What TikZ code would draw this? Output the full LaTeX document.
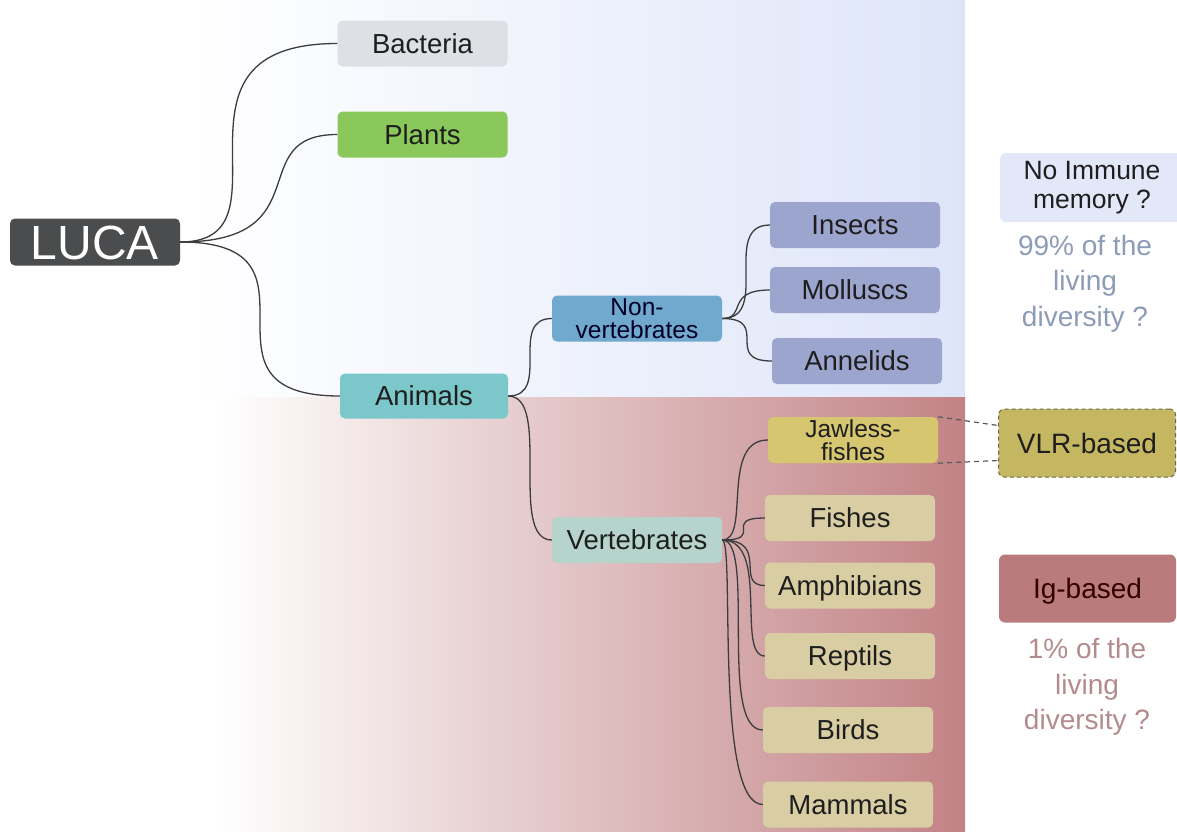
\documentclass[tikz,border=0pt]{standalone}
\usepackage{fontspec}
\setmainfont{Liberation Sans}
\usetikzlibrary{calc}
\definecolor{bgBlue}{HTML}{DEE5F9}
\definecolor{bgPinkM}{HTML}{DCB9BB}
\definecolor{bgPink}{HTML}{C28285}
\definecolor{cLuca}{HTML}{4A4C4D}
\definecolor{cBact}{HTML}{DDE0E5}
\definecolor{cPlant}{HTML}{8BC85B}
\definecolor{cAnim}{HTML}{7CC7C9}
\definecolor{cNonv}{HTML}{70A9CD}
\definecolor{cInv}{HTML}{9CA5CD}
\definecolor{cJaw}{HTML}{D6C66F}
\definecolor{cVert}{HTML}{B6D4CC}
\definecolor{cVer}{HTML}{D9CEA3}
\definecolor{cNoImm}{HTML}{E3E8F8}
\definecolor{cVLR}{HTML}{C5B762}
\definecolor{cVLRb}{HTML}{6D6842}
\definecolor{cIg}{HTML}{B97B7B}
\definecolor{cNine}{HTML}{8D9CB6}
\definecolor{cOne}{HTML}{B48B8D}
\definecolor{cTxt}{HTML}{1E1E1E}
\definecolor{cLine}{HTML}{3C3C3C}
\newcommand\mylink[4]{\draw[conn] (#1.east) .. controls +(#3,0) and +(-#4,0) .. (#2.west);}
\begin{document}
\begin{tikzpicture}[x=1pt,y=-1pt,
  nd/.style={rounded corners=5pt, minimum width=170pt, minimum height=46pt, inner sep=0pt,
    text=cTxt, font=\fontsize{27.5}{30}\selectfont, text height=19.7pt, text depth=0pt},
  ndtwo/.style={rounded corners=5pt, minimum width=170pt, minimum height=46pt, inner sep=0pt,
    text=cTxt, font=\fontsize{24.5}{22.5}\selectfont, align=center},
  lg/.style={rounded corners=6pt, minimum width=177pt, minimum height=68pt, inner sep=0pt,
    text=cTxt, font=\fontsize{28}{30}\selectfont, text height=20pt, text depth=0pt},
  note/.style={font=\fontsize{28}{35.5}\selectfont, align=center, inner sep=0pt},
  conn/.style={draw=cLine, line width=1.3pt},
  dashln/.style={draw=cLine!85, line width=1.2pt, dash pattern=on 5pt off 4pt}
]
\useasboundingbox (0,0) rectangle (1177,831);
\fill[white] (0,0) rectangle (1177,831);
\shade[left color=white, right color=bgBlue] (190,0) rectangle (965,397);
\shade[left color=white, middle color=bgPinkM, right color=bgPink] (215,397) rectangle (965,831);

% nodes
\node[nd, fill=cLuca, text=white, minimum height=47pt, font=\fontsize{48}{50}\selectfont, text height=34pt] (luca) at (95,242) {LUCA};
\node[nd, fill=cBact] (bact) at (422.5,43.5) {Bacteria};
\node[nd, fill=cPlant] (plant) at (422.5,134.5) {Plants};
\node[nd, fill=cAnim, minimum width=168pt, minimum height=45pt] (anim) at (424,396) {Animals};
\node[ndtwo, fill=cNonv, text=black!85!blue] (nonv) at (637,318.5) {Non-\\vertebrates};
\node[nd, fill=cInv] (ins) at (855,225) {Insects};
\node[nd, fill=cInv] (mol) at (855,290) {Molluscs};
\node[nd, fill=cInv] (ann) at (857,361) {Annelids};
\node[ndtwo, fill=cJaw] (jaw) at (853,440) {Jawless-\\fishes};
\node[nd, fill=cVert] (vert) at (637,540) {Vertebrates};
\node[nd, fill=cVer] (fish) at (850,518) {Fishes};
\node[nd, fill=cVer] (amph) at (850,585.5) {Amphibians};
\node[nd, fill=cVer] (rept) at (850,656) {Reptils};
\node[nd, fill=cVer] (bird) at (848,730) {Birds};
\node[nd, fill=cVer] (mamm) at (848,804.5) {Mammals};

% legend
\node[lg, fill=cNoImm, minimum width=184pt, minimum height=69pt, text height=, text depth=,
  font=\fontsize{26.5}{29}\selectfont, align=center] (noimm) at (1092,187.5) {No Immune\\memory ?};
\node[note, text=cNine] (nine) at (1085,283.5) {99\% of the\\living\\diversity ?};
\node[lg, fill=cVLR, draw=cVLRb, line width=1pt, dash pattern=on 4pt off 3pt] (vlr) at (1087,443) {VLR-based};
\node[lg, fill=cIg, text=black!80!red] (ig) at (1087.5,588.5) {Ig-based};
\node[note, text=cOne] (one) at (1087,687) {1\% of the\\living\\diversity ?};

% connectors
\mylink{luca}{bact}{120}{190}
\mylink{luca}{plant}{142}{95}
\mylink{luca}{anim}{160}{160}
\mylink{anim}{nonv}{44}{44}
\mylink{anim}{vert}{44}{44}
\mylink{nonv}{ins}{49}{49}
\mylink{nonv}{mol}{25}{45}
\mylink{nonv}{ann}{49}{49}
\mylink{vert}{jaw}{29}{48}
\mylink{vert}{fish}{44}{44}
\mylink{vert}{amph}{48}{31}
\mylink{vert}{rept}{48}{29}
\mylink{vert}{bird}{34}{45}
\mylink{vert}{mamm}{13}{49}

\draw[dashln] (jaw.north east) -- ($(vlr.north west)+(0,17)$);
\draw[dashln] (jaw.south east) -- ($(vlr.south west)+(0,-17)$);
\end{tikzpicture}
\end{document}
